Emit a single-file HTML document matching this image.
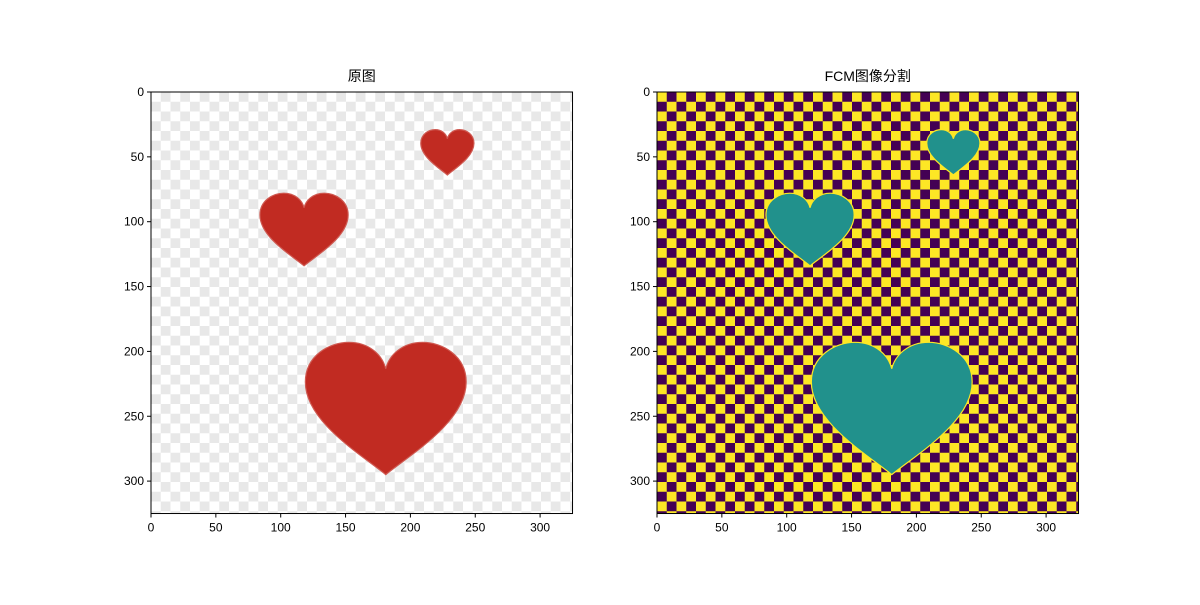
<!DOCTYPE html>
<html><head><meta charset="utf-8">
<style>
body{margin:0;background:#fff;width:1200px;height:600px;overflow:hidden}
svg text{font-family:"Liberation Sans","Noto Sans CJK SC",sans-serif}
</style></head>
<body>
<svg id="chart" width="1200" height="600" xmlns="http://www.w3.org/2000/svg">
<defs>
<pattern id="chkL" patternUnits="userSpaceOnUse" x="151" y="92" width="19.5" height="19.5">
<rect width="19.5" height="19.5" fill="#ffffff"/>
<rect x="9.75" width="9.75" height="9.75" fill="#e8e8e8"/>
<rect y="9.75" width="9.75" height="9.75" fill="#e8e8e8"/>
</pattern>
<pattern id="chkR" patternUnits="userSpaceOnUse" x="657" y="92" width="19.5" height="19.5">
<rect width="19.5" height="19.5" fill="#fde725"/>
<rect x="9.75" width="9.75" height="9.75" fill="#440154"/>
<rect y="9.75" width="9.75" height="9.75" fill="#440154"/>
</pattern>
</defs>
<g id="plots"></g>
</svg>
<script>
const ticks=[0,50,100,150,200,250,300];
const heartX0=[208,84,119];
const heartX1=[249,152,243];
const heartY0=[29,78,193];
const heartY1=[64,134,295];
const titles=["原图","FCM图像分割"];
const extent=325;
const axesX=[151,657];
const plotTop=92, scale=1.297;
const NS="http://www.w3.org/2000/svg";
const g=document.getElementById('plots');
function el(t,a,p){const e=document.createElementNS(NS,t);for(const k in a)e.setAttribute(k,a[k]);(p||g).appendChild(e);return e;}
const heartD="M0.5,1 C0.35,0.85 0,0.6 0,0.3 C0,0.1 0.15,0 0.27,0 C0.4,0 0.48,0.1 0.5,0.2 C0.52,0.1 0.6,0 0.73,0 C0.85,0 1,0.1 1,0.3 C1,0.6 0.65,0.85 0.5,1 Z";
axesX.forEach((ax,pi)=>{
  const sx=d=>ax+d*scale, sy=d=>plotTop+d*scale;
  const W=extent*scale;
  const bg=el('rect',{x:ax,y:plotTop,width:W,height:W,fill:pi?'url(#chkR)':'url(#chkL)'});
  
  
  for(let i=0;i<heartX0.length;i++){
    const w=(heartX1[i]-heartX0[i])*scale,h=(heartY1[i]-heartY0[i])*scale;
    const p=el('path',{d:heartD,transform:`translate(${sx(heartX0[i])},${sy(heartY0[i])}) scale(${w},${h})`,
      fill:pi?'#21918c':'#c12b22',stroke:pi?'#fde725':'#cf5a52','stroke-width':1.2,'vector-effect':'non-scaling-stroke'});
    
    
  }
  const fr=el('rect',{x:ax,y:plotTop,width:W,height:W,fill:'none',stroke:'#000','stroke-width':1});
  
  
  ticks.forEach(t=>{
    el('line',{x1:sx(t),x2:sx(t),y1:plotTop+W,y2:plotTop+W+4,stroke:'#000'});
    const tx=el('text',{x:sx(t),y:plotTop+W+18,'font-size':12,'text-anchor':'middle'});tx.textContent=t;
    
    
    el('line',{x1:ax-4,x2:ax,y1:sy(t),y2:sy(t),stroke:'#000'});
    const ty=el('text',{x:ax-7,y:sy(t)+4,'font-size':12,'text-anchor':'end'});ty.textContent=t;
    
    
  });
  const tt=el('text',{x:ax+W/2,y:81,'font-size':14,'text-anchor':'middle'});tt.textContent=titles[pi];
  
  
});
</script>
</body></html>
